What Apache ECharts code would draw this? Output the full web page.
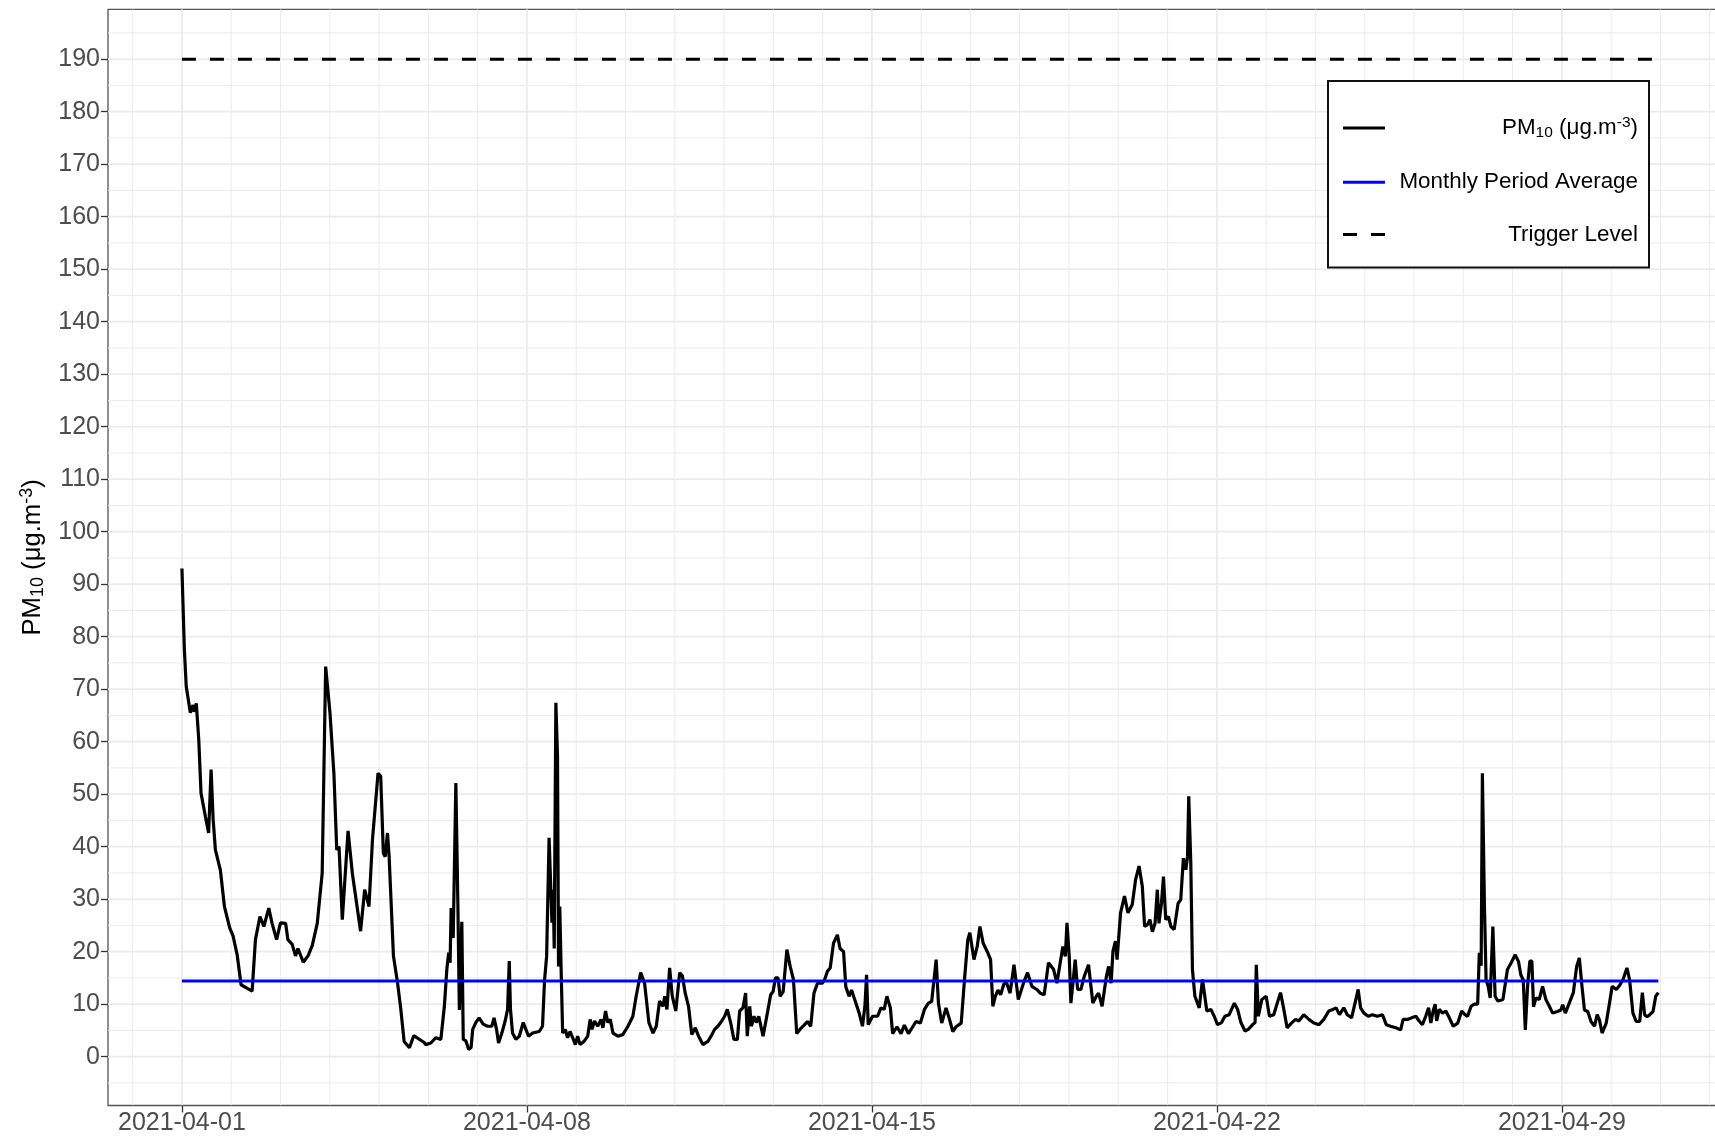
<!DOCTYPE html>
<html>
<head>
<meta charset="utf-8">
<script src="https://cdn.jsdelivr.net/npm/echarts@6/dist/echarts.min.js"></script>
<style>html,body{margin:0;padding:0;background:#fff}#c{width:1715px;height:1140px}</style>
</head>
<body>
<div id="c"></div>
<script>
// ---- data (hours since 2021-04-01 00:00) ----
const hours = [
0,1.2,2.1,4.1,5.4,6,7,8.2,9.3,11.4,13,14.2,15.2,16.3,18.7,20.7,23.3,24.9,26.9,28.8,31.4,34.2,35.8,38,39.9,42.3,43.9,46.1,48,50.5,51.6,53.7,55.3,56.5,59.1,61.4,63.5,65.9,68.3,70,72.1,74,75.4,76.5,78.1,80.9,83,87,89,91.1,92.8,95.5,96.8,98.1,99,100.1,100.9,103,105,106.6,108.2,110.8,112.9,118,
118.7,121.2,123.6,126.1,127.8,129,129.9,130.6,131.1,132.1,133.4,134.4,135.1,136.3,137,138.3,139.6,140.8,141.6,143.1,144.7,146.7,148.8,150.9,152,153.2,154.2,155.8,157.4,158.6,159.4,160,161,162.6,164.3,166.2,167.5,168.8,170.8,174,175.6,176.6,177.6,178.8,180.2,180.8,181.3,182.1,182.9,183.4,184,184.7,185.4,186.7,187.8,189,190.3,191.6,192.7,193.9,196,197.6,198.8,199.7,200.9,202.5,204.1,205,206.3,207.4,208.6,209.9,212.3,214.7,217.2,219.6,221.2,223.4,225.3,227.4,229.4,231,232.6,234.3,235.1,236.2,237.5,238.8,240.5,242.4,243.7,
245.1,246.7,248.3,250,251.6,253.7,256.1,258.1,259.4,261,262.7,264.3,265.6,267.2,268.8,270.5,271.6,273.2,274.5,275.3,276.5,277.3,278.6,279.7,280.9,283,285.1,286.7,287.9,289,290.3,291.3,292.8,294.6,296.2,297.8,299.4,301.4,303,304.6,306.2,307.8,309.5,311.9,313,314.4,315.7,317.3,319.2,320.5,322.2,323.3,324.9,326.1,328.2,329.8,331.4,332.6,333.4,334.2,336.3,338.8,340.4,342,343.3,345,346.1,348.2,350.2,351.8,353.8,355.9,357.5,359.6,361.6,363.5,365.1,367.3,368.4,370,372.1,373.8,375.4,377,379.5,381.1,382.7,383.7,385.7,387.3,388.6,390.2,392.2,393.8,394.9,396.1,397.4,398.7,400.3,
401.7,403.3,405.2,407.3,409.8,411.8,413.9,416.3,418,419.9,422,424.5,426.1,427.7,429,430.2,431,432.1,432.9,433.9,435,436.2,437.8,439.4,441.5,443.6,445.3,446.4,448.1,450.2,451.3,452.5,453.4,454.6,455.4,457.1,459,460.7,462.8,464.4,466.1,467.7,468.8,470.1,471.4,472.6,473.9,475,475.8,477,478,479.1,480.4,481.6,483.2,485.1,486.4,487.7,488.9,489.7,490.3,491.3,492.1,493.3,495.4,497,499.1,501.1,502.7,504.3,506.3,507.9,510,512.5,514.1,515.7,517.7,519.3,521.4,522.6,523.2,524.2,525.9,
528,529.6,531.7,533.4,535,536.6,538.2,540.3,542.3,543.9,546.3,548.8,551.2,553.7,556.1,558.5,560.5,562.1,563.7,565.8,567.5,569.6,571.5,572.8,574,575.6,577.7,579.7,582.1,584.6,586.5,588.6,591.1,593.5,594.7,596.8,598.9,600.9,602.5,604.1,605.7,607.1,608.2,609.3,610.3,611,612.3,613.9,615.5,617.2,619.1,621.3,623.2,624.8,626.1,627.8,629.4,631,631.8,632.7,633.3,634.3,635.1,636.1,637.1,638.4,639.5,640.8,643.3,
645.5,647.2,649.3,650.9,652,653.2,654.2,655.3,656.4,657.4,658.2,659.4,661,662.6,664.2,665.9,667.5,669.9,671.5,672.4,673.7,675.6,677.6,679.2,680.5,681.8,683,684.6,686.2,687.9,689.2,690.3,691.6,693.6,695.2,696.5,698.5,699.8,701.7,703.7,705,706.6,708.2,709.9,711.2,712.3,713.5,714.8,716.4,717.7,719
];
const pm10 = [
93,77.5,70.5,65.5,67,65.7,67.3,60.4,50.2,45.8,42.6,54.7,45.2,39.4,35.6,28.6,24.5,23,19.4,13.7,13.1,12.5,22.3,26.7,24.8,28.3,25.4,22.3,25.5,25.4,22.3,21.4,19.2,20.6,18,19.2,21.2,25.4,34.9,74.3,65.5,54,39.4,40,26.1,43,34.9,23.9,31.8,28.6,41.4,54,53.4,38.7,38.1,42.6,38.1,19.2,14.1,9,2.9,1.7,4,2.7,
2.3,2.6,3.6,3.3,9.6,16.6,19.8,17.9,28.3,22.6,52.1,28.6,8.9,25.7,3.3,3,1.4,1.7,5.2,6.5,7.4,6.2,5.8,5.8,7.4,5.2,2.6,4.5,6.8,9,18.2,9,4.5,3.3,3.9,6.5,5.2,3.9,4.5,4.8,5.8,14.6,19.1,41.7,25.5,31.8,20.6,67.4,57.2,17.2,28.6,16,4.5,5.2,3.6,4.8,3.6,2.3,3.9,2.3,3,3.9,7.1,5.2,6.8,5.8,7.1,5.5,8.7,6.5,7.1,4.5,3.9,4.2,5.8,7.7,11.5,16,14,6.5,4.5,5.8,10.6,9.6,11.5,9,16.9,11.5,8.7,16,15.4,
12.1,9.6,4.2,5.5,3.9,2.3,2.9,4.2,5.2,5.8,6.7,7.7,9,6.5,3.3,3.3,8.7,9.3,12.1,3.9,9.6,5.8,7.7,6.5,7.7,3.9,8.3,11.8,12.4,15,15,11.5,12.4,20.4,17.2,14.7,4.4,5.4,6,6.7,5.8,12.1,14,14,14.7,16.3,16.9,21.6,23.2,20.6,20,13.3,11.5,12.7,10.2,8.3,5.8,9.6,15.6,6.1,7.7,7.7,9.3,9,11.5,9.3,4.4,5.7,4.4,6,4.4,5.7,6.7,6.4,9,10.2,10.5,18.5,10.2,6.4,9.3,7.1,4.8,5.7,6.4,14.7,22.3,23.6,18.5,21,24.8,21.6,20,18.5,9.6,11.5,12.7,11.8,13.9,
14,12.1,17.5,10.9,14,16,13.4,12.8,12.1,11.8,17.9,16.6,14,17.9,21,19.1,25.5,19.1,10.2,14,18.5,12.8,12.8,15.3,17.5,10.2,11.5,12.1,9.6,15.3,17.2,14,20.1,22,18.5,27.4,30.6,27.4,29,33.7,36.3,32.4,24.8,25.1,26.1,23.8,25.4,31.8,25.4,29.2,34.3,26.1,26.7,24.8,24.2,29.2,29.9,37.8,35.6,38.1,49.6,36.9,16.6,11.5,9.3,14.7,8.7,9,7.7,6.1,6.5,7.7,8,10.2,9,6.5,4.9,5.2,6.1,6.5,17.5,7.7,10.9,
11.5,7.7,8,10.2,12.2,9,5.5,6.4,7.1,6.8,8,7.1,6.4,6.1,7.1,8.7,9,9.3,8,9.3,8,7.4,10.6,12.8,9.3,8.3,7.7,8,7.7,8,6.1,5.8,5.5,5.1,7.1,7.1,7.4,7.7,6.8,6.1,7.7,9.3,6.4,8.7,10,6.8,9,8.3,8.7,7.4,5.8,6.4,8.7,8,7.7,9.6,10,10,19.8,17.3,54,28.6,14.6,13.4,11.2,24.8,11.5,10.6,10.9,
16.6,17.8,19.4,18.1,15.6,14.6,5.1,13.4,18.2,18.2,9.5,11.2,10.9,13.4,10.9,9.6,8.3,8.6,8.9,9.9,8.3,10.2,12.2,17.2,18.8,13.4,8.9,8.6,6.7,5.8,8,7,4.5,6.4,10.2,13.4,12.8,13.4,14.6,16.9,14.6,8.3,6.7,6.7,12.2,8,7.6,8,8.6,11.5,12.2
];
const monthlyAverage = 14.4;
const triggerLevel = 190;
const periodHours = [0, 719];
const xTickHours = [0, 168, 336, 504, 672];
const xTickLabels = ['2021-04-01', '2021-04-08', '2021-04-15', '2021-04-22', '2021-04-29'];
const yTicks = [0,10,20,30,40,50,60,70,80,90,100,110,120,130,140,150,160,170,180,190];
const dayGridHours = [-24,0,24,48,72,96,120,144,168,192,216,240,264,288,312,336,360,384,408,432,456,480,504,528,552,576,600,624,648,672,696,720,744];
const yMinorGrid = [-5,5,15,25,35,45,55,65,75,85,95,105,115,125,135,145,155,165,175,185,195];

const FONT = '"Liberation Sans", Arial, sans-serif';
const GRID = '#ebebeb';

function vLines(vals, w) {
  return {
    type: 'custom', silent: true, z: 1, clip: true,
    data: vals.map(v => [v, 0]),
    renderItem: (params, api) => {
      const cs = params.coordSys;
      const x = api.coord([api.value(0), 0])[0];
      return {type: 'line', shape: {x1: x, y1: cs.y, x2: x, y2: cs.y + cs.height},
        style: {stroke: GRID, lineWidth: w}};
    }
  };
}
function hLines(vals, w) {
  return {
    type: 'custom', silent: true, z: 1, clip: true,
    data: vals.map(v => [0, v]),
    renderItem: (params, api) => {
      const cs = params.coordSys;
      const y = api.coord([0, api.value(1)])[1];
      return {type: 'line', shape: {x1: cs.x, y1: y, x2: cs.x + cs.width, y2: y},
        style: {stroke: GRID, lineWidth: w}};
    }
  };
}

const richLegend = {
  t: {fontSize: 22.4, fontFamily: FONT, color: '#000', align: 'right', lineHeight: 26},
  sub: {fontSize: 15.5, fontFamily: FONT, color: '#000', align: 'right', verticalAlign: 'bottom', lineHeight: 14},
  sup: {fontSize: 15.5, fontFamily: FONT, color: '#000', align: 'right', verticalAlign: 'top', lineHeight: 14}
};
const richTitle = {
  t: {fontSize: 25.7, fontFamily: FONT, color: '#000', lineHeight: 29},
  sub: {fontSize: 18, fontFamily: FONT, color: '#000', verticalAlign: 'bottom', lineHeight: 16},
  sup: {fontSize: 18, fontFamily: FONT, color: '#000', verticalAlign: 'top', lineHeight: 16}
};

const chart = echarts.init(document.getElementById('c'), null, {renderer: 'canvas'});
chart.setOption({
  animation: false,
  backgroundColor: '#fff',
  grid: {left: 108, top: 9.3, width: 1624.3, bottom: 34.5, show: true,
    outerBoundsMode: 'none', containLabel: false,
    borderColor: '#555', borderWidth: 1.3, backgroundColor: 'transparent'},
  legend: {
    orient: 'vertical', left: 1328, top: 81,
    padding: [34, 11, 22, 15],
    itemWidth: 42, itemHeight: 3, itemGap: 30.3,
    backgroundColor: '#fff', borderColor: '#111', borderWidth: 2,
    data: [
      {name: 'PM10', icon: 'rect'},
      {name: 'Monthly Period Average', icon: 'rect'},
      {name: 'Trigger Level', icon: 'path://M0,0h14v3h-14z M28,0h14v3h-14z'}
    ],
    formatter: name => {
      if (name === 'PM10') return '{t|PM}{sub|10}{t| (μg.m}{sup|-3}{t|)}';
      return '{t|' + name + '}';
    },
    textStyle: {width: 248, fontSize: 22.4, fontFamily: FONT, color: '#000', rich: richLegend}
  },
  xAxis: {
    type: 'value', min: -36, max: 755,
    axisLine: {show: false, onZero: false},
    axisTick: {show: true, length: 7, customValues: xTickHours, lineStyle: {color: '#333', width: 1.3}},
    axisLabel: {customValues: xTickHours, fontSize: 25, fontFamily: FONT, color: '#4d4d4d', margin: 5,
      formatter: v => xTickLabels[xTickHours.indexOf(v)]},
    splitLine: {show: false}
  },
  yAxis: {
    type: 'value', min: -9.3, max: 199.5,
    axisLine: {show: false, onZero: false},
    axisTick: {show: true, length: 7, customValues: yTicks, lineStyle: {color: '#333', width: 1.3}},
    axisLabel: {customValues: yTicks, fontSize: 25, fontFamily: FONT, color: '#4d4d4d', margin: 8},
    splitLine: {show: false},
    name: '{t|PM}{sub|10}{t| (μg.m}{sup|-3}{t|)}',
    nameLocation: 'middle', nameRotate: 90, nameGap: 58,
    nameTextStyle: {fontSize: 25.7, fontFamily: FONT, color: '#000', rich: richTitle}
  },
  series: [
    vLines(dayGridHours.filter(h => xTickHours.indexOf(h) < 0), 1),
    hLines(yMinorGrid, 1),
    vLines(xTickHours, 1.8),
    hLines(yTicks, 1.8),
    {
      name: 'PM10', type: 'line', z: 5, symbol: 'none', showSymbol: false,
      data: hours.map((h, i) => [h, pm10[i]]),
      lineStyle: {color: '#000', width: 3.2}, itemStyle: {color: '#000'}
    },
    {
      name: 'Monthly Period Average', type: 'line', z: 6, symbol: 'none', showSymbol: false,
      data: periodHours.map(h => [h, monthlyAverage]),
      lineStyle: {color: '#0000ff', width: 3}, itemStyle: {color: '#0000ff'}
    },
    {
      name: 'Trigger Level', type: 'line', z: 6, symbol: 'none', showSymbol: false,
      data: periodHours.map(h => [h, triggerLevel]),
      lineStyle: {color: '#000', width: 3, type: [14, 14]}, itemStyle: {color: '#000'}
    }
  ]
});
</script>
</body>
</html>
